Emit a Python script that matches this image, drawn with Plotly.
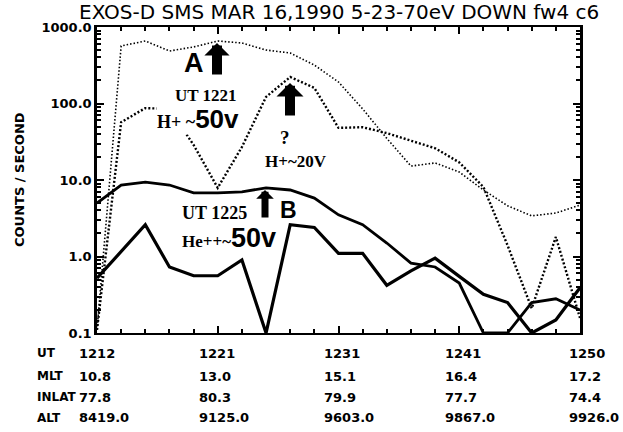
import plotly.graph_objects as go

# sample index along the UT axis (5 samples between labelled UT ticks)
x_idx = list(range(21))

# counts / second
h_plus_a = [0.11, 565, 656, 486, 548, 656, 618, 500, 457, 318, 191, 85, 35, 15.2, 16.7, 12.7, 7.4, 4.6, 3.4, 3.7, 4.7]
h_plus_20 = [0.11, 57, 87, 85, 28.7, 7.9, 27, 122, 222, 160, 48, 49, 41, 33, 26, 17, 8.1, 1.4, 0.21, 1.8, 0.157]
he_b = [5.0, 8.6, 9.4, 8.6, 6.8, 6.8, 7.0, 7.9, 7.4, 5.8, 3.5, 2.6, 1.5, 0.82, 0.73, 0.45, 0.1, 0.1, 0.25, 0.28, 0.20]
he_low = [0.52, 1.15, 2.6, 0.73, 0.56, 0.56, 0.90, 0.1, 2.6, 2.4, 1.1, 1.1, 0.42, 0.65, 0.95, 0.55, 0.32, 0.25, 0.1, 0.148, 0.39]

# orbit table under the axis
ut_pos = [0, 5, 10, 15, 20]
ut = ["1212", "1221", "1231", "1241", "1250"]
mlt = ["10.8", "13.0", "15.1", "16.4", "17.2"]
inlat = ["77.8", "80.3", "79.9", "77.7", "74.4"]
alt = ["8419.0", "9125.0", "9603.0", "9867.0", "9926.0"]
row_names = ["UT", "MLT", "INLAT", "ALT"]

y_ticks = [0.1, 1, 10, 100, 1000]
y_ticktext = ["0.1", "1.0", "10.0", "100.0", "1000.0"]
y_minor = [m * d for d in (0.1, 1, 10, 100) for m in range(2, 10)]

W, H = 623, 432
L, R, T, B = 97, 580, 27, 333


def pp(xp, yp):
    # pixel position -> paper coords
    return (xp - L) / (R - L), (B - yp) / (B - T)


fig = go.Figure()
fig.add_trace(go.Scatter(x=x_idx, y=h_plus_a, mode="lines",
                         line=dict(color="black", width=1.6, dash="1.5px,2px")))
fig.add_trace(go.Scatter(x=x_idx, y=h_plus_20, mode="lines",
                         line=dict(color="black", width=2.4, dash="2px,2px")))
fig.add_trace(go.Scatter(x=x_idx, y=he_b, mode="lines",
                         line=dict(color="black", width=2.8)))
fig.add_trace(go.Scatter(x=x_idx, y=he_low, mode="lines",
                         line=dict(color="black", width=3.2)))

bold = "DejaVu Sans"
ann = []


def text(xp, yp, s, size, family=bold, weight="bold", **kw):
    px, py = pp(xp, yp)
    d = dict(x=px, y=py, xref="paper", yref="paper", text=s, showarrow=False,
             xanchor="center", yanchor="middle",
             font=dict(family=family, size=size, color="black", weight=weight))
    d.update(kw)
    ann.append(d)


def arrow(xp, yp, length, width, size):
    px, py = pp(xp, yp)
    ann.append(dict(x=px, y=py, xref="paper", yref="paper", text="", showarrow=True,
                    ax=0, ay=length, arrowhead=1, arrowwidth=width, arrowsize=size,
                    arrowcolor="black", standoff=0))


# title and y label
text(339, 12, "EXOS-D SMS MAR 16,1990 5-23-70eV DOWN fw4 c6", 20, weight="normal")
text(19, 180, "COUNTS / SECOND", 13, textangle=-90)

# labels inside plot
text(206, 95, "UT 1221", 17, family="Liberation Serif", bgcolor="white", borderpad=0)
text(198, 119, "H+ ~<span style='font-family:Liberation Sans;font-size:26px'>50v</span>", 18,
     family="Liberation Serif", bgcolor="white", borderpad=0)
text(194, 63, "A", 27, family="Liberation Sans")
arrow(217, 43, 33, 10, 0.42)
arrow(290, 83, 34, 10, 0.45)
text(285, 137, "?", 19, family="Liberation Serif")
text(296, 161, "H+~20V", 17, family="Liberation Serif")
text(214, 213, "UT 1225", 18, family="Liberation Serif")
arrow(265, 190, 29, 7, 0.42)
text(288, 210, "B", 23, family="Liberation Sans")
text(229, 238, "He++~<span style='font-family:Liberation Sans;font-size:27px'>50v</span>", 17,
     family="Liberation Serif")

# table under the axis
col_left = [77, 197, 322, 443, 567]
row_y = [353, 376, 397, 418]
for name, vals, ry in zip(row_names, [ut, mlt, inlat, alt], row_y):
    text(35, ry, name, 12, xanchor="left")
    for cx, v in zip(col_left, vals):
        text(cx, ry, v, 13, xanchor="left")

fig.update_layout(
    width=W, height=H,
    margin=dict(l=L, r=W - R, t=T, b=H - B),
    paper_bgcolor="white", plot_bgcolor="white",
    showlegend=False,
    annotations=ann,
)
fig.update_xaxes(
    range=[0, 20], showgrid=False, zeroline=False,
    showline=True, linecolor="black", linewidth=1.5, mirror="ticks",
    tickvals=ut_pos, showticklabels=False,
    ticks="inside", ticklen=7, tickwidth=1.5, tickcolor="black",
    minor=dict(dtick=1, ticks="inside", ticklen=4, tickcolor="black", showgrid=False),
)
fig.update_yaxes(
    type="log", range=[-1, 3], showgrid=False, zeroline=False,
    showline=True, linecolor="black", linewidth=2.5, mirror="ticks",
    tickvals=y_ticks, ticktext=y_ticktext,
    ticks="inside", ticklen=7, tickwidth=1.5, tickcolor="black",
    tickfont=dict(family=bold, size=13, color="black", weight="bold"),
    minor=dict(tickvals=y_minor, ticks="inside", ticklen=4, tickcolor="black", showgrid=False),
)

# drop the default page margin so the figure fills the window
fig.write_html("out.html", config={"displayModeBar": False},
               post_script="document.body.style.margin='0';")
